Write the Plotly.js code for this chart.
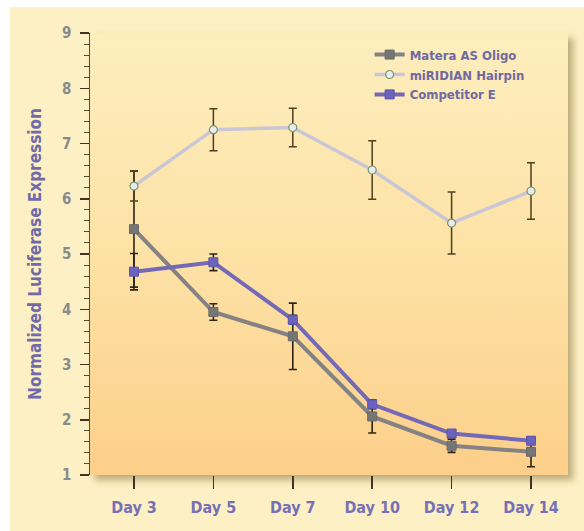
<!DOCTYPE html>
<html>
<head>
<meta charset="utf-8">
<script src="https://cdn.plot.ly/plotly-3.0.1.min.js"></script>
<style>
  html, body { margin:0; padding:0; background:#ffffff; }
  #wrap { position:relative; width:584px; height:531px; overflow:hidden; }
  #bg { position:absolute; left:10px; top:7px; width:574px; height:524px; background:#fdf0c4; }
  #panel { position:absolute; left:90px; top:33px; width:478px; height:442px;
           background:linear-gradient(to bottom, #fdeebe 0%, #fde2a6 50%, #fccf8a 100%);
           box-shadow: 5px 5px 7px rgba(110,85,30,0.45); }
  #chart { position:absolute; left:0; top:0; width:584px; height:531px; }
</style>
</head>
<body>
<div id="wrap">
  <div id="bg"></div>
  <div id="panel"></div>
  <div id="chart"></div>
</div>
<script>
const days = ["Day 3", "Day 5", "Day 7", "Day 10", "Day 12", "Day 14"];

const materaName = "Matera AS Oligo";
const materaVals = [5.45, 3.95, 3.51, 2.06, 1.53, 1.42];
const materaErr  = [1.05, 0.15, 0.60, 0.30, 0.12, 0.27];

const miridianName = "miRIDIAN Hairpin";
const miridianVals = [6.23, 7.25, 7.29, 6.52, 5.56, 6.14];
const miridianErr  = [0.27, 0.38, 0.35, 0.53, 0.56, 0.51];

const competitorName = "Competitor E";
const competitorVals = [4.68, 4.85, 3.81, 2.28, 1.75, 1.62];
const competitorErr  = [0.33, 0.15, 0.08, 0.08, 0.05, 0.05];

const yTickVals = [1, 2, 3, 4, 5, 6, 7, 8, 9];

const errColor = "#2e2412";
const font = "'Liberation Sans Narrow', 'DejaVu Sans Condensed', Arial, sans-serif";

const traces = [
  {
    x: days, y: materaVals, name: materaName, type: "scatter", mode: "lines+markers",
    line: { color: "#848282", width: 4 },
    marker: { symbol: "square", size: 9, color: "#767676", line: { color: "#6a6a6a", width: 1 } },
    error_y: { type: "data", array: materaErr, visible: true, color: errColor, thickness: 1.6, width: 4 }
  },
  {
    x: days, y: miridianVals, name: miridianName, type: "scatter", mode: "lines+markers",
    line: { color: "#c9c6d6", width: 3.5 },
    marker: { symbol: "circle", size: 8, color: "#e6ecec", line: { color: "#7f9270", width: 1.2 } },
    error_y: { type: "data", array: miridianErr, visible: true, color: "#4e3f1e", thickness: 1.5, width: 4 }
  },
  {
    x: days, y: competitorVals, name: competitorName, type: "scatter", mode: "lines+markers",
    line: { color: "#7369b6", width: 4 },
    marker: { symbol: "square", size: 9, color: "#6c62c0", line: { color: "#5d55a8", width: 1 } },
    error_y: { type: "data", array: competitorErr, visible: true, color: errColor, thickness: 1.6, width: 4 }
  }
];

const layout = {
  width: 584, height: 531,
  margin: { l: 90, r: 16, t: 33, b: 56 },
  paper_bgcolor: "rgba(0,0,0,0)",
  plot_bgcolor: "rgba(0,0,0,0)",
  showlegend: true,
  legend: {
    x: 0.585, y: 0.985, xanchor: "left", yanchor: "top",
    bgcolor: "rgba(0,0,0,0)",
    font: { family: font, size: 13, color: "#6f6aa2", weight: "bold" },
    tracegroupgap: 0, itemwidth: 30
  },
  xaxis: {
    type: "category",
    range: [-0.554, 5.466],
    showgrid: false, zeroline: false, showline: false,
    ticks: "outside", ticklen: 13, tickwidth: 1.5, tickcolor: "#3e3420",
    tickfont: { family: font, size: 16, color: "#7670b6", weight: "bold" },
    ticklabelstandoff: 5
  },
  yaxis: {
    range: [1, 9],
    tickvals: yTickVals,
    showgrid: false, zeroline: false,
    showline: true, linecolor: "#5a4c30", linewidth: 1.5,
    ticks: "outside", ticklen: 9, tickwidth: 1.5, tickcolor: "#3e3420",
    minor: { dtick: 0.2, ticks: "outside", ticklen: 5, tickwidth: 1, tickcolor: "#5a4c30", showgrid: false },
    tickfont: { family: font, size: 15, color: "#8a8a8a", weight: "bold" },
    ticklabelstandoff: 5,
    title: { text: "Normalized Luciferase Expression", standoff: 16,
             font: { family: font, size: 17, color: "#6f6aa8", weight: "bold" } }
  }
};

Plotly.newPlot("chart", traces, layout, { displayModeBar: false, staticPlot: true });
</script>
</body>
</html>
